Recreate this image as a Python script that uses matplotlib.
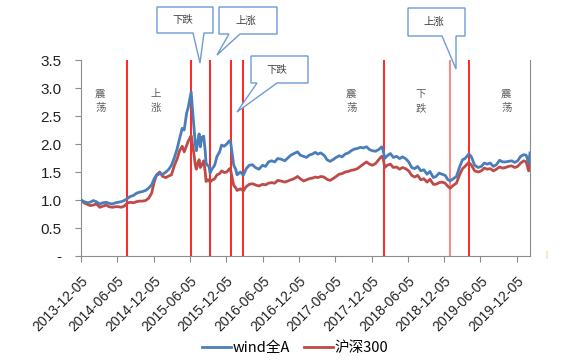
import numpy as np
import pandas as pd
import matplotlib
matplotlib.use('Agg')
import matplotlib.pyplot as plt
from matplotlib.patches import Polygon

plt.rcParams['font.family'] = ['Noto Sans CJK SC', 'DejaVu Sans']

# data
dates = [
    '2013-12-05', '2013-12-20', '2014-01-08', '2014-01-20', '2014-02-05', '2014-02-20',
    '2014-03-10', '2014-03-25', '2014-04-10', '2014-04-25', '2014-05-12', '2014-05-28',
    '2014-06-12', '2014-06-25', '2014-07-10', '2014-07-24', '2014-08-08', '2014-08-25',
    '2014-09-10', '2014-09-25', '2014-10-10', '2014-10-25', '2014-11-10', '2014-11-25',
    '2014-12-08', '2014-12-20', '2015-01-05', '2015-01-20', '2015-02-05', '2015-02-20',
    '2015-03-05', '2015-03-20', '2015-04-03', '2015-04-15', '2015-04-28', '2015-05-08',
    '2015-05-20', '2015-05-28', '2015-06-05', '2015-06-12', '2015-06-19', '2015-06-26',
    '2015-07-03', '2015-07-08', '2015-07-15', '2015-07-22', '2015-07-28', '2015-08-05',
    '2015-08-14', '2015-08-21', '2015-08-26', '2015-09-02', '2015-09-10', '2015-09-15',
    '2015-09-24', '2015-10-08', '2015-10-20', '2015-11-02', '2015-11-12', '2015-11-25',
    '2015-12-08', '2015-12-22', '2015-12-28', '2016-01-05', '2016-01-12', '2016-01-22',
    '2016-01-29', '2016-02-15', '2016-02-29', '2016-03-15', '2016-03-30', '2016-04-15',
    '2016-04-30', '2016-05-18', '2016-06-05', '2016-06-20', '2016-07-05', '2016-07-20',
    '2016-08-05', '2016-08-20', '2016-09-05', '2016-09-25', '2016-10-10', '2016-10-25',
    '2016-11-10', '2016-11-28', '2016-12-12', '2016-12-28', '2017-01-12', '2017-01-25',
    '2017-02-10', '2017-02-25', '2017-03-10', '2017-03-25', '2017-04-10', '2017-04-25',
    '2017-05-10', '2017-05-25', '2017-06-10', '2017-06-25', '2017-07-10', '2017-07-25',
    '2017-08-10', '2017-08-25', '2017-09-10', '2017-09-25', '2017-10-10', '2017-10-25',
    '2017-11-10', '2017-11-25', '2017-12-10', '2017-12-25', '2018-01-10', '2018-01-25',
    '2018-02-02', '2018-02-09', '2018-02-22', '2018-03-10', '2018-03-25', '2018-04-10',
    '2018-04-25', '2018-05-10', '2018-05-25', '2018-06-10', '2018-06-25', '2018-07-10',
    '2018-07-25', '2018-08-10', '2018-08-25', '2018-09-10', '2018-09-25', '2018-10-12',
    '2018-10-25', '2018-11-10', '2018-11-25', '2018-12-10', '2018-12-25', '2019-01-04',
    '2019-01-20', '2019-02-05', '2019-02-22', '2019-03-08', '2019-03-20', '2019-04-08',
    '2019-04-20', '2019-05-08', '2019-05-25', '2019-06-10', '2019-06-25', '2019-07-10',
    '2019-07-25', '2019-08-10', '2019-08-25', '2019-09-10', '2019-09-25', '2019-10-10',
    '2019-10-25', '2019-11-10', '2019-11-25', '2019-12-10', '2019-12-25', '2020-01-10',
    '2020-01-22', '2020-02-03', '2020-02-10',
]

wind_a = [
    1.00, 0.97, 0.95, 0.96, 0.99, 0.97,
    0.93, 0.95, 0.96, 0.94, 0.93, 0.95,
    0.96, 0.97, 0.99, 1.02, 1.06, 1.08,
    1.12, 1.14, 1.15, 1.17, 1.21, 1.27,
    1.38, 1.44, 1.47, 1.46, 1.50, 1.55,
    1.62, 1.76, 1.92, 2.10, 2.28, 2.25,
    2.55, 2.65, 2.80, 2.93, 2.60, 2.30,
    2.00, 1.88, 2.05, 2.18, 1.95, 2.12,
    2.14, 1.90, 1.66, 1.62, 1.60, 1.48,
    1.55, 1.62, 1.78, 1.86, 1.98, 1.96,
    2.00, 2.06, 2.02, 1.80, 1.62, 1.55,
    1.45, 1.50, 1.44, 1.56, 1.62, 1.63,
    1.58, 1.55, 1.62, 1.60, 1.68, 1.70,
    1.68, 1.74, 1.73, 1.70, 1.75, 1.80,
    1.83, 1.86, 1.80, 1.78, 1.76, 1.80,
    1.82, 1.85, 1.82, 1.84, 1.80, 1.72,
    1.69, 1.72, 1.76, 1.79, 1.77, 1.82,
    1.84, 1.88, 1.91, 1.92, 1.94, 1.93,
    1.95, 1.90, 1.88, 1.87, 1.90, 1.95,
    1.88, 1.74, 1.79, 1.83, 1.76, 1.78,
    1.74, 1.77, 1.74, 1.68, 1.58, 1.56,
    1.60, 1.52, 1.54, 1.46, 1.51, 1.40,
    1.42, 1.48, 1.46, 1.44, 1.36, 1.34,
    1.38, 1.42, 1.60, 1.72, 1.74, 1.82,
    1.78, 1.62, 1.58, 1.60, 1.66, 1.64,
    1.66, 1.60, 1.63, 1.71, 1.68, 1.68,
    1.69, 1.70, 1.67, 1.70, 1.78, 1.81,
    1.80, 1.66, 1.84,
]

hs300 = [
    1.00, 0.95, 0.92, 0.90, 0.91, 0.93,
    0.87, 0.89, 0.91, 0.88, 0.87, 0.88,
    0.88, 0.87, 0.89, 0.94, 0.96, 0.95,
    0.97, 0.98, 0.98, 0.99, 1.03, 1.12,
    1.32, 1.45, 1.50, 1.42, 1.40, 1.43,
    1.45, 1.62, 1.74, 1.88, 1.96, 1.86,
    1.97, 2.05, 2.10, 2.15, 1.98, 1.82,
    1.62, 1.55, 1.65, 1.72, 1.58, 1.63,
    1.70, 1.52, 1.33, 1.36, 1.36, 1.32,
    1.35, 1.38, 1.45, 1.47, 1.52, 1.49,
    1.50, 1.56, 1.52, 1.38, 1.26, 1.22,
    1.17, 1.20, 1.16, 1.24, 1.28, 1.29,
    1.27, 1.25, 1.28, 1.27, 1.30, 1.31,
    1.30, 1.35, 1.34, 1.32, 1.34, 1.36,
    1.38, 1.42, 1.38, 1.34, 1.36, 1.38,
    1.39, 1.41, 1.40, 1.42, 1.41, 1.37,
    1.35, 1.38, 1.42, 1.46, 1.47, 1.50,
    1.51, 1.53, 1.54, 1.56, 1.60, 1.64,
    1.68, 1.64, 1.62, 1.65, 1.72, 1.78,
    1.74, 1.58, 1.62, 1.64, 1.58, 1.59,
    1.55, 1.58, 1.56, 1.52, 1.44, 1.41,
    1.44, 1.36, 1.38, 1.32, 1.37, 1.28,
    1.28, 1.31, 1.32, 1.30, 1.24, 1.21,
    1.26, 1.30, 1.46, 1.56, 1.60, 1.67,
    1.63, 1.52, 1.50, 1.52, 1.57, 1.55,
    1.56, 1.52, 1.55, 1.59, 1.57, 1.58,
    1.60, 1.61, 1.58, 1.60, 1.66, 1.70,
    1.68, 1.52, 1.66,
]

split_dates = ['2014-07-24', '2015-06-12', '2015-09-14', '2015-12-27',
               '2016-02-28', '2018-02-05', '2019-01-02', '2019-04-10']

phase_labels = ['震\n荡', '上\n涨', '震\n荡', '下\n跌', '震\n荡']
phase_dates = ['2014-03-11', '2014-12-14', '2017-08-25', '2018-08-10', '2019-10-14']

tick_dates = ['2013-12-05', '2014-06-05', '2014-12-05', '2015-06-05', '2015-12-05',
              '2016-06-05', '2016-12-05', '2017-06-05', '2017-12-05', '2018-06-05',
              '2018-12-05', '2019-06-05', '2019-12-05']

dates = pd.to_datetime(dates)

fig = plt.figure(figsize=(5.84, 3.63), dpi=100)
ax = fig.add_axes([81 / 584, 1 - 256 / 363, (530 - 81) / 584, (256 - 60) / 363])

for d in split_dates:
    c = '#ff6f6f' if d == '2019-01-02' else '#ff0000'
    ax.axvline(pd.Timestamp(d), color=c, lw=1.2, zorder=1)

ax.plot(dates, wind_a, color='#4a7ebb', lw=2.0, label='wind全A', zorder=3)
ax.plot(dates, hs300, color='#be4b48', lw=2.0, label='沪深300', zorder=2)

for lab, d in zip(phase_labels, phase_dates):
    ax.text(pd.Timestamp(d), 2.77, lab, ha='center', va='center',
            fontsize=7.5, color='#606060', linespacing=1.5)

ax.set_xlim(pd.Timestamp('2013-12-05'), pd.Timestamp('2020-02-10'))
ax.set_ylim(0, 3.5)
ax.set_yticks(np.arange(0, 3.51, 0.5))
ax.set_yticklabels(['-'] + ['%.1f' % v for v in np.arange(0.5, 3.51, 0.5)],
                   family='Liberation Sans')
ax.set_xticks(pd.to_datetime(tick_dates))
ax.set_xticklabels(tick_dates, rotation=45, ha='right', rotation_mode='anchor',
                   family='Liberation Sans')

for s in ['left', 'bottom', 'right']:
    ax.spines[s].set_color('#8c8c8c')
ax.spines['top'].set_visible(False)
ax.tick_params(axis='y', labelsize=11, colors='#8c8c8c', labelcolor='#222222',
               length=4, pad=10)
ax.tick_params(axis='x', labelsize=10, colors='#8c8c8c', labelcolor='#222222',
               length=4, pad=9)

fig.legend(loc='center', bbox_to_anchor=(295 / 584, 1 - 348 / 363), ncol=2,
           frameon=False, fontsize=10.5, handlelength=2.0, columnspacing=1.0,
           handletextpad=0.1)

# callout boxes, in pixel coordinates of the picture
callouts = [
    ('下跌', (157, 7, 213, 33), (193, 204), (200, 63)),
    ('上涨', (219, 7, 277, 34), (229, 240), (217, 55)),
    ('下跌', (251, 56, 308, 83), (257, 277), (237, 112)),
    ('上涨', (408, 8, 465, 36), (442, 456), (456, 69)),
]
W, H = 584.0, 363.0
for txt, (x0, y0, x1, y1), (b0, b1), (tx, ty) in callouts:
    pts = [(x0, y0), (x1, y0), (x1, y1), (b1, y1), (tx, ty), (b0, y1), (x0, y1)]
    pts = [(px / W, 1 - py / H) for px, py in pts]
    fig.patches.append(Polygon(pts, closed=True, fc='white', ec='#6d9bd8',
                               lw=1.0, transform=fig.transFigure))
    fig.text((x0 + x1) / 2 / W - 0.004, 1 - (y0 + y1) / 2 / H, txt, ha='center',
             va='center', fontsize=7.5, color='#404040')

fig.text(546.5 / W, 1 - 255 / H, '|', color='#f0a030', fontsize=5,
         ha='center', va='center')

fig.savefig('out.png', dpi=100)
